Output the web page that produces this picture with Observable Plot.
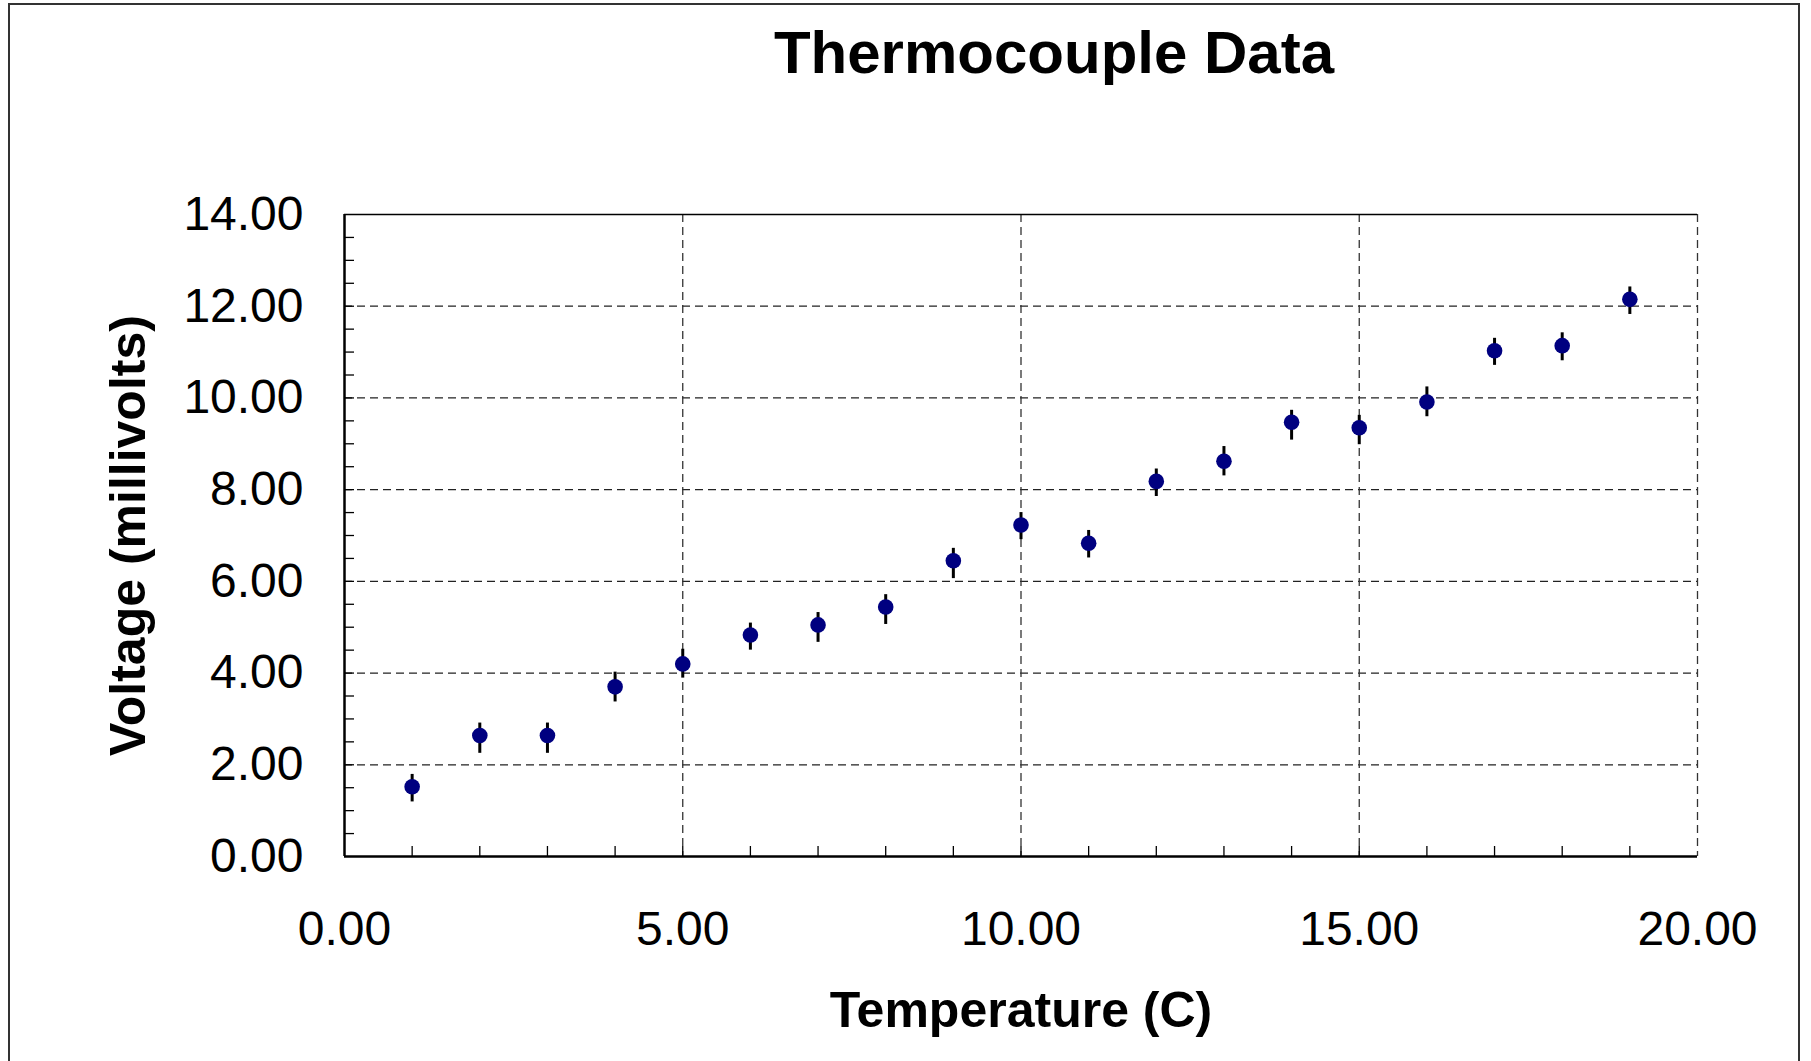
<!DOCTYPE html>
<html>
<head>
<meta charset="utf-8">
<script src="https://cdn.jsdelivr.net/npm/d3@7"></script>
<script src="https://cdn.jsdelivr.net/npm/@observablehq/plot@0.6"></script>
<style>
  html, body { margin: 0; padding: 0; background: #fff; overflow: hidden; }
  #wrap { position: relative; width: 1811px; height: 1061px; overflow: hidden; }
  #border { position: absolute; left: 8px; top: 3px; width: 1792px; height: 1100px; border: 2px solid #333; box-sizing: border-box; pointer-events: none; }
</style>
</head>
<body>
<div id="wrap"><div id="border"></div></div>
<script>
// ---- data ----
const title = "Thermocouple Data";
const xLabel = "Temperature (C)";
const yLabel = "Voltage (millivolts)";
const temperature = [1, 2, 3, 4, 5, 6, 7, 8, 9, 10, 11, 12, 13, 14, 15, 16, 17, 18, 19];
const voltage = [1.52, 2.64, 2.64, 3.70, 4.20, 4.83, 5.05, 5.44, 6.45, 7.23, 6.83, 8.18, 8.62, 9.47, 9.35, 9.91, 11.03, 11.14, 12.15];
const errUp   = [0.27, 0.27, 0.27, 0.32, 0.32, 0.26, 0.27, 0.27, 0.27, 0.27, 0.28, 0.27, 0.32, 0.26, 0.27, 0.33, 0.27, 0.28, 0.27];
const errDown = [0.33, 0.39, 0.39, 0.33, 0.31, 0.33, 0.38, 0.38, 0.39, 0.32, 0.32, 0.33, 0.32, 0.39, 0.37, 0.32, 0.32, 0.33, 0.33];
const xTicks = [0, 5, 10, 15, 20];
const yTicks = [0, 2, 4, 6, 8, 10, 12, 14];
const xMinorTicks = d3.range(1, 20, 1);
const yMinorTicks = d3.range(0.5, 14, 0.5);

const data = temperature.map((t, i) => ({
  t, v: voltage[i], lo: voltage[i] - errDown[i], hi: voltage[i] + errUp[i]
}));

const W = 1811, H = 1061;
const mL = 344, mR = W - 1697, mT = 214, mB = H - 856;
const frameW = W - mL - mR, frameH = H - mT - mB;
const font = "'Liberation Sans', Arial, Helvetica, sans-serif";
const fmt = d => d.toFixed(2);
const dash = "8,5";

const chart = Plot.plot({
  width: W,
  height: H,
  marginLeft: mL, marginRight: mR, marginTop: mT, marginBottom: mB,
  style: { fontFamily: font, fontSize: "48px", color: "#000", background: "transparent", overflow: "visible" },
  x: { domain: [0, 20], ticks: xTicks, tickFormat: fmt },
  y: { domain: [0, 14], ticks: yTicks, tickFormat: fmt },
  marks: [
    // dashed grid
    Plot.gridY(yTicks.filter(d => d > 0 && d < 14), { stroke: "#222", strokeOpacity: 1, strokeWidth: 1.2, strokeDasharray: dash }),
    Plot.gridX(xTicks.filter(d => d > 0), { stroke: "#333", strokeOpacity: 1, strokeWidth: 1.3, strokeDasharray: dash }),
    // inward minor ticks
    Plot.tickY(yMinorTicks, { y: d => d, insetRight: frameW - 10, stroke: "#000", strokeWidth: 1.3 }),
    Plot.tickX(xMinorTicks, { x: d => d, insetTop: frameH - 10, stroke: "#000", strokeWidth: 1.3 }),
    // frame lines
    Plot.ruleY([14], { stroke: "#000", strokeWidth: 1.5 }),
    Plot.ruleX([0], { stroke: "#000", strokeWidth: 2.5 }),
    Plot.ruleY([0], { stroke: "#000", strokeWidth: 2.5 }),
    // axes
    Plot.axisX(xTicks, { tickSize: 0, tickPadding: 54, fontSize: 48, label: null, tickFormat: fmt }),
    Plot.axisY(yTicks, { tickSize: 0, tickPadding: 41, fontSize: 48, label: null, tickFormat: fmt }),
    // error bars and points
    Plot.ruleX(data, { x: "t", y1: "lo", y2: "hi", stroke: "#000", strokeWidth: 3 }),
    Plot.dot(data, { x: "t", y: "v", r: 7.8, fill: "#000080", stroke: "none" }),
    // titles
    Plot.text([title], { frameAnchor: "top", lineAnchor: "middle", textAnchor: "middle", dx: 33, dy: -161, fontSize: 60, fontWeight: "bold", fill: "#000" }),
    Plot.text([xLabel], { frameAnchor: "bottom", lineAnchor: "middle", textAnchor: "middle", dy: 154, fontSize: 50, fontWeight: "bold", fill: "#000" }),
    Plot.text([yLabel], { frameAnchor: "left", lineAnchor: "middle", textAnchor: "middle", dx: -216, rotate: -90, fontSize: 50, fontWeight: "bold", fill: "#000" })
  ]
});
chart.style.position = "absolute";
chart.style.left = "0px";
chart.style.top = "0px";
document.getElementById("wrap").appendChild(chart);
</script>
</body>
</html>
